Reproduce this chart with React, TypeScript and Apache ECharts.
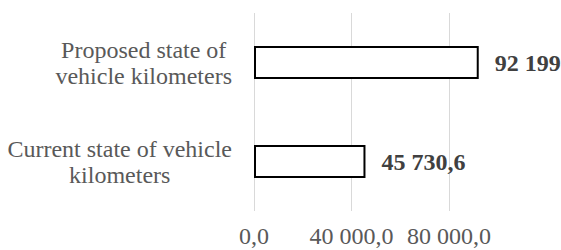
import React, { useEffect, useRef } from "react";
import * as echarts from "echarts";

const categories = [
  ["Current state of vehicle", "kilometers"],
  ["Proposed state of", "vehicle kilometers"],
];
const values = [45730.6, 92199];
const gridValues = [0, 40000, 80000];
const axisMax = 100000;
const axisInterval = 40000;

const FONT = "Liberation Serif";

function groupInt(n: number): string {
  return Math.floor(n)
    .toString()
    .replace(/\B(?=(\d{3})+(?!\d))/g, " ");
}

function fmtTick(v: number): string {
  if (v > 80000) return "";
  return groupInt(v) + ",0";
}

function fmtValue(v: number): string {
  const intPart = groupInt(v);
  const dec = Math.round((v - Math.floor(v)) * 10);
  return dec ? intPart + "," + dec : intPart;
}

export default function App() {
  const ref = useRef<HTMLDivElement>(null);
  useEffect(() => {
    document.body.style.margin = "0";
    if (!ref.current) return;
    const chart = echarts.init(ref.current, null, { renderer: "svg" });
    chart.setOption({
      animation: false,
      backgroundColor: "#ffffff",
      textStyle: { fontFamily: FONT },
      grid: {
        left: 254,
        right: 63.25,
        top: 13,
        bottom: 39,
        containLabel: false,
        outerBoundsMode: "none",
      },
      xAxis: {
        type: "value",
        min: 0,
        max: axisMax,
        interval: axisInterval,
        splitLine: { show: false },
        axisLine: { show: false },
        axisTick: { show: false },
        axisLabel: {
          formatter: (v: number) => fmtTick(v),
          color: "#595959",
          fontFamily: FONT,
          fontSize: 24,
          lineHeight: 20,
          margin: 15,
        },
      },
      yAxis: {
        type: "category",
        data: categories.map((c) => c.join("\n")),
        axisLine: { show: false },
        axisTick: { show: false },
        axisLabel: {
          margin: 22,
          fontFamily: FONT,
          fontSize: 24,
          color: "#595959",
          formatter: (v: string) =>
            v
              .split("\n")
              .map((line) => "{c|" + line + "}")
              .join("\n"),
          rich: {
            c: {
              align: "center",
              color: "#595959",
              fontFamily: FONT,
              fontSize: 24,
              lineHeight: 26,
            },
          },
        },
      },
      series: [
        {
          type: "bar",
          data: values,
          barWidth: 33,
          z: 2,
          itemStyle: { color: "#ffffff", borderColor: "#000000", borderWidth: 2 },
          label: {
            show: true,
            position: "right",
            distance: 16,
            formatter: (p: any) => fmtValue(p.value),
            color: "#404040",
            fontFamily: FONT,
            fontSize: 24,
            fontWeight: "bold",
          },
          markLine: {
            silent: true,
            z: 1,
            symbol: ["none", "none"],
            label: { show: false },
            lineStyle: { color: "#d9d9d9", width: 1, type: "solid" },
            emphasis: { disabled: true },
            data: gridValues.map((v) => ({ xAxis: v })),
          },
        },
      ],
    });
    return () => chart.dispose();
  }, []);
  return (
    <div
      ref={ref}
      style={{ width: 561, height: 250, position: "absolute", left: 0, top: 0 }}
    />
  );
}
